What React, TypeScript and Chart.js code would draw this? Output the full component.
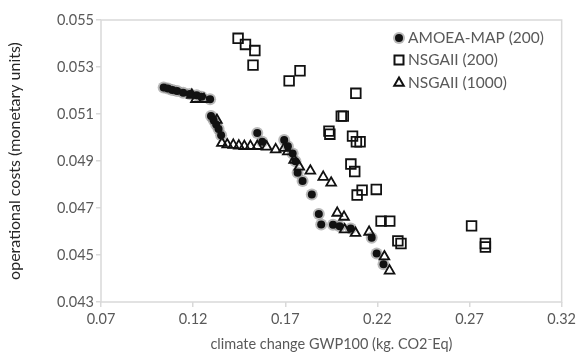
import React, { useEffect, useRef } from 'react';
import { Chart, registerables } from 'chart.js';

Chart.register(...registerables);

const seriesLabels = ['AMOEA-MAP (200)', 'NSGAII (200)', 'NSGAII (1000)'];

const amoeaX = [0.1040, 0.1063, 0.1087, 0.1113, 0.1146, 0.1182, 0.1219, 0.1246, 0.1292,
  0.1297, 0.1311, 0.1325, 0.1338, 0.1352,
  0.1548, 0.1575, 0.1694, 0.1714, 0.1740, 0.1755, 0.1767, 0.1794, 0.1844, 0.1882, 0.1895,
  0.1959, 0.1995, 0.2055, 0.2169, 0.2196, 0.2233];
const amoeaY = [0.05213, 0.05209, 0.05202, 0.05198, 0.05190, 0.05185, 0.05180, 0.05173, 0.05163,
  0.05091, 0.05074, 0.05055, 0.05036, 0.05010,
  0.05019, 0.04982, 0.04989, 0.04963, 0.04932, 0.04899, 0.04850, 0.04815, 0.04757, 0.04674, 0.04630,
  0.04629, 0.04622, 0.04613, 0.04573, 0.04506, 0.04461];

const nsga200X = [0.1444, 0.1484, 0.1535, 0.1525, 0.1721, 0.1780, 0.2083, 0.2004, 0.2015, 0.1937,
  0.1942, 0.2065, 0.2086, 0.2106, 0.2056, 0.2077, 0.2090, 0.2117, 0.2194, 0.2220, 0.2267, 0.2311,
  0.2328, 0.2711, 0.2786, 0.2786];
const nsga200Y = [0.05422, 0.05396, 0.05370, 0.05308, 0.05241, 0.05284, 0.05188, 0.05091, 0.05091, 0.05027,
  0.05014, 0.05006, 0.04982, 0.04982, 0.04887, 0.04855, 0.04755, 0.04776, 0.04779, 0.04644, 0.04644, 0.04560,
  0.04549, 0.04624, 0.04549, 0.04534];

const nsga1000X = [0.1193, 0.1215, 0.1259, 0.1329, 0.1356, 0.1385, 0.1418, 0.1448, 0.1478, 0.1511,
  0.1548, 0.1599, 0.1648, 0.1695, 0.1714, 0.1748, 0.1776, 0.1836, 0.1906, 0.1949, 0.1982, 0.2019,
  0.2022, 0.2081, 0.2155, 0.2238, 0.2266];
const nsga1000Y = [0.05181, 0.05163, 0.05163, 0.05074, 0.04976, 0.04970, 0.04968, 0.04965, 0.04963, 0.04963,
  0.04963, 0.04960, 0.04949, 0.04955, 0.04940, 0.04904, 0.04875, 0.04858, 0.04832, 0.04807, 0.04679, 0.04662,
  0.04608, 0.04593, 0.04598, 0.04493, 0.04433];

const xMin = 0.07, xMax = 0.32, xStep = 0.05;
const yMin = 0.043, yMax = 0.055, yStep = 0.002;

const xTitle = 'climate change GWP100 (kg. CO2\u207BEq)';
const yTitle = 'operational costs (monetary units)';

const FONT = 'Lato, "Open Sans", sans-serif';
const GRAY_TEXT = '#595959';
const AXIS_COLOR = '#d9d9d9';
const HALO = 'rgba(130,130,130,0.55)';

const toPoints = (xs: number[], ys: number[]) => xs.map((x, i) => ({ x, y: ys[i] }));

const framePlugin = {
  id: 'frameAndLegend',
  beforeDatasetsDraw(chart: any) {
    const { ctx, chartArea } = chart;
    const { left, top, right, bottom } = chartArea;
    ctx.save();
    ctx.strokeStyle = AXIS_COLOR;
    ctx.lineWidth = 1.5;
    ctx.strokeRect(left, top, right - left, bottom - top);
    ctx.restore();
  },
  afterDraw(chart: any) {
    const { ctx } = chart;
    const mx = 399;
    const tx = 408;
    const rows = [38, 60, 83];
    ctx.save();
    ctx.beginPath();
    ctx.fillStyle = HALO;
    ctx.arc(mx, rows[0], 6, 0, Math.PI * 2);
    ctx.fill();
    ctx.beginPath();
    ctx.fillStyle = '#111';
    ctx.arc(mx, rows[0], 4, 0, Math.PI * 2);
    ctx.fill();
    ctx.strokeStyle = '#111';
    ctx.lineWidth = 2;
    ctx.strokeRect(mx - 4.5, rows[1] - 4.5, 9, 9);
    const r = 5.5;
    ctx.beginPath();
    ctx.moveTo(mx, rows[2] - r);
    ctx.lineTo(mx + r * Math.sin(2 * Math.PI / 3), rows[2] - r * Math.cos(2 * Math.PI / 3));
    ctx.lineTo(mx + r * Math.sin(4 * Math.PI / 3), rows[2] - r * Math.cos(4 * Math.PI / 3));
    ctx.closePath();
    ctx.stroke();
    ctx.fillStyle = GRAY_TEXT;
    ctx.font = '15.5px ' + FONT;
    ctx.textBaseline = 'middle';
    ctx.textAlign = 'left';
    seriesLabels.forEach((l, i) => ctx.fillText(l, tx, rows[i]));
    ctx.restore();
  },
};

export default function App() {
  const ref = useRef<HTMLCanvasElement>(null);
  useEffect(() => {
    if (!ref.current) return;
    const chart = new Chart(ref.current, {
      type: 'scatter',
      data: {
        datasets: [
          {
            label: seriesLabels[2],
            data: toPoints(nsga1000X, nsga1000Y),
            pointStyle: 'triangle',
            pointRadius: 5.6,
            backgroundColor: 'rgba(0,0,0,0)',
            borderColor: '#111',
            borderWidth: 1.8,
            order: 1,
          },
          {
            label: seriesLabels[1],
            data: toPoints(nsga200X, nsga200Y),
            pointStyle: 'rect',
            pointRadius: 6.8,
            backgroundColor: 'rgba(0,0,0,0)',
            borderColor: '#111',
            borderWidth: 1.8,
            order: 2,
          },
          {
            label: seriesLabels[0],
            data: toPoints(amoeaX, amoeaY),
            pointStyle: 'circle',
            pointRadius: 4,
            backgroundColor: '#111',
            borderWidth: 0,
            order: 3,
          },
          {
            label: 'halo',
            data: toPoints(amoeaX, amoeaY),
            pointStyle: 'circle',
            pointRadius: 6,
            backgroundColor: HALO,
            borderWidth: 0,
            order: 4,
          },
        ],
      },
      options: {
        animation: false,
        responsive: false,
        devicePixelRatio: 1,
        layout: { padding: { left: 0, top: 20, right: 18, bottom: 0 } },
        plugins: { legend: { display: false }, tooltip: { enabled: false } },
        scales: {
          x: {
            type: 'linear',
            min: xMin,
            max: xMax,
            afterFit: (s: any) => { s.height = 61; },
            ticks: {
              stepSize: xStep,
              color: GRAY_TEXT,
              font: { family: FONT, size: 14.5 },
              padding: 4,
              callback: (v: any) => Number(v).toFixed(2),
            },
            grid: { drawOnChartArea: false, drawTicks: true, tickLength: 5, color: AXIS_COLOR, lineWidth: 1.5 },
            border: { display: false },
            title: {
              display: true,
              text: xTitle,
              color: GRAY_TEXT,
              font: { family: FONT, size: 14.5 },
              padding: { top: 0, bottom: 10 },
            },
          },
          y: {
            type: 'linear',
            min: yMin,
            max: yMax,
            afterFit: (s: any) => { s.width = 101; },
            ticks: {
              stepSize: yStep,
              color: GRAY_TEXT,
              font: { family: FONT, size: 14.5 },
              padding: 2,
              callback: (v: any) => Number(v).toFixed(3),
            },
            grid: { drawOnChartArea: false, drawTicks: true, tickLength: 5, color: AXIS_COLOR, lineWidth: 1.5 },
            border: { display: false },
            title: {
              display: true,
              text: yTitle,
              color: '#262626',
              font: { family: FONT, size: 16 },
              padding: { top: 5, bottom: 0 },
            },
          },
        },
      },
      plugins: [framePlugin],
    } as any);
    return () => chart.destroy();
  }, []);
  return (
    <div style={{ position: 'fixed', left: 0, top: 0, width: 580, height: 363, background: '#fff' }}>
      <canvas ref={ref} width={580} height={363} style={{ display: 'block' }} />
    </div>
  );
}
